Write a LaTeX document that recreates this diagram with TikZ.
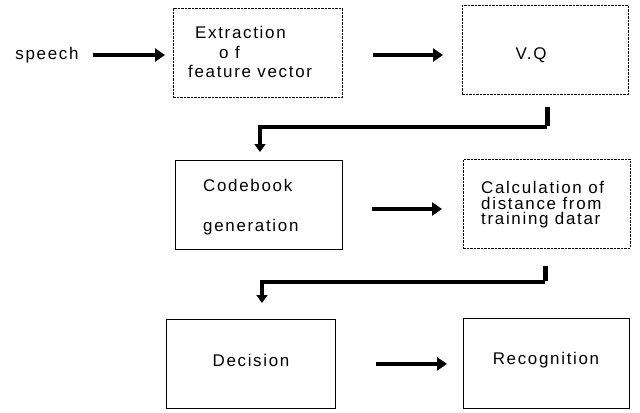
\documentclass[tikz,border=0pt]{standalone}
\usepackage{fontspec}
\setmainfont{Liberation Sans}[LetterSpace=10]
\usetikzlibrary{arrows.meta}
\begin{document}
\begin{tikzpicture}[x=1bp,y=-1bp,
  every node/.style={font=\fontsize{17}{15.7}\selectfont, inner sep=0pt},
  blk/.style={draw, line width=0.8bp, anchor=north west},
  dotblk/.style={blk, dash pattern=on 2.5bp off 1bp},
  lbl/.style={anchor=center},
  arr/.style={line width=4bp, -{Triangle[length=10bp,width=13bp]}},
  conn/.style={line width=3.5bp, -{Triangle[length=8bp,width=11bp]}}]
\useasboundingbox (0,0) rectangle (640,412);

% blocks
\node[dotblk, minimum width=169bp, minimum height=89bp] (ext) at (173,8) {};
\node[dotblk, minimum width=166bp, minimum height=89bp] (vq) at (462,5) {};
\node[blk, minimum width=167bp, minimum height=89bp] (cb) at (175,160) {};
\node[dotblk, minimum width=167bp, minimum height=89bp] (calc) at (463,159) {};
\node[blk, minimum width=169bp, minimum height=89bp] (dec) at (166,319) {};
\node[blk, minimum width=166bp, minimum height=90bp] (rec) at (463,318) {};

% labels
\node[lbl] (speech) at (47,55) {speech};
\node[anchor=base west] (t1) at (195,38) {Extraction};
\node[anchor=base west] (t2) at (219,58) {o f};
\node[anchor=base west] (t3) at (188,77) {feature vector};
\node[lbl] (t4) at (531,55) {V.Q};
\node[anchor=west] (t5) at (203,185) {Codebook};
\node[anchor=west] (t6) at (203,227) {generation};
\node[anchor=north west, align=left] (t7) at (481,181)
  {Calculation of\\distance from\\training datar};
\node[lbl] (t10) at (251,360) {Decision};
\node[lbl] (t11) at (546,360) {Recognition};

% straight arrows
\draw[arr, shorten <=14bp, shorten >=8bp] (speech.east) -- (speech.east -| ext.west);
\draw[arr, shorten <=30bp, shorten >=19bp] (ext.east |- t4) -- (t4 -| vq.west);
\draw[arr, shorten <=30bp, shorten >=21bp] (342,209) -- (calc.west |- 0,209);
\draw[arr, shorten <=40bp, shorten >=16bp] (dec.east) -- (dec.east -| rec.west);

% return connectors
\coordinate (b1) at (547,127);
\coordinate (b2) at (545,282);
\draw[line width=5bp] ([yshift=-12bp]vq.south -| b1) -- ([yshift=1.5bp]b1);
\draw[conn] (b1) -| ([yshift=8bp]cb.north -| 260,0);
\draw[line width=5bp] ([yshift=-17bp]calc.south -| b2) -- ([yshift=1.5bp]b2);
\draw[conn] (b2) -| ([yshift=16bp]dec.north -| 262,0);
\end{tikzpicture}
\end{document}
